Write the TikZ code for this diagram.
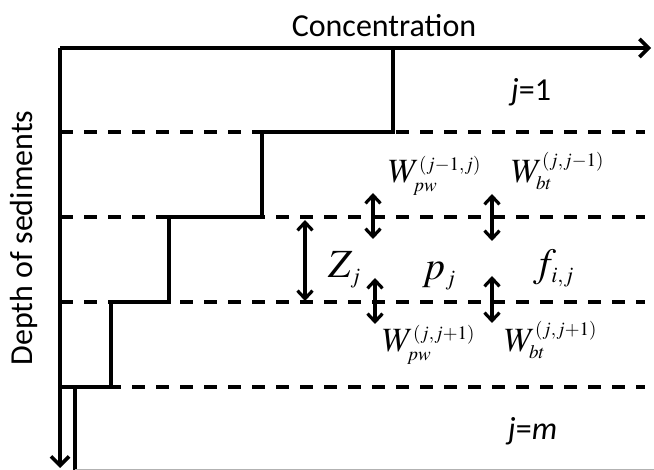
\documentclass[tikz,border=0pt]{standalone}
\usepackage{mathptmx}
\usepackage{fontspec}
\newfontfamily\calib{Carlito}
\usetikzlibrary{arrows.meta}
\DeclareMathSizes{34}{34}{19}{15}
\DeclareMathSizes{40}{40}{22}{16}
\begin{document}
\begin{tikzpicture}[x=1pt,y=-1pt,
  axisline/.style={line width=3.6pt,-{Straight Barb[length=9pt,width=18pt]}},
  layerline/.style={line width=3.6pt,dash pattern=on 13pt off 11pt},
  profile/.style={line width=4pt,line join=miter},
  dblarrow/.style={line width=3.2pt,{Straight Barb[length=8pt,width=15pt]}-{Straight Barb[length=8pt,width=15pt]}},
  sanslabel/.style={inner sep=0pt,font=\calib\fontsize{32}{38}\selectfont},
  wlabel/.style={inner sep=0pt,anchor=base west,font=\fontsize{34}{40}\selectfont},
  biglabel/.style={inner sep=0pt,anchor=base west,font=\fontsize{40}{46}\selectfont}]
\useasboundingbox (0,0) rectangle (654,470);
\coordinate (O) at (60,48);
\coordinate (xend) at (651,48);
\coordinate (yend) at (60,468);
% layer boundaries
\foreach \yy/\nm in {132/a,217/b,302/c,387/d}{
  \coordinate (L\nm) at (60,\yy);
  \coordinate (R\nm) at (645,\yy);
  \draw[layerline] (L\nm) -- (R\nm);
}
% concentration profile
\coordinate (s0) at (60,48);
\coordinate (s1) at (393,48);
\coordinate (s2) at (393,132);
\coordinate (s3) at (262,132);
\coordinate (s4) at (262,217);
\coordinate (s5) at (169,217);
\coordinate (s6) at (169,302);
\coordinate (s7) at (111,302);
\coordinate (s8) at (111,387);
\coordinate (s9) at (75,387);
\coordinate (s10) at (75,470);
\draw[profile] (s0) -- (s1) -- (s2) -- (s3) -- (s4) -- (s5) -- (s6) -- (s7) -- (s8) -- (s9) -- (s10);
% axes
\draw[axisline] (O) -- (xend);
\draw[axisline] (O) -- (yend);
\coordinate (g1) at (75,469.5);
\coordinate (g2) at (654,469.5);
\draw[gray!60,line width=1pt] (g1) -- (g2);
% axis labels
\node[sanslabel,anchor=base] (conc) at (384,37) {Concentration};
\node[sanslabel,rotate=90] (depth) at (24,238) {Depth of sediments};
\node[sanslabel,anchor=base west] (j1) at (511,101) {\itshape j\upshape=1};
\node[sanslabel,anchor=base west] (jm) at (508,440) {\itshape j\upshape=\itshape m};
% double arrows
\coordinate (a1t) at (373,193); \coordinate (a1b) at (373,239);
\coordinate (a2t) at (492,194); \coordinate (a2b) at (492,241);
\coordinate (a3t) at (375,278); \coordinate (a3b) at (375,324);
\coordinate (a4t) at (492,276); \coordinate (a4b) at (492,323);
\coordinate (zt) at (305,220); \coordinate (zb) at (305,301);
\draw[dblarrow] (a1t) -- (a1b);
\draw[dblarrow] (a2t) -- (a2b);
\draw[dblarrow] (a3t) -- (a3b);
\draw[dblarrow] (a4t) -- (a4b);
\draw[dblarrow] (zt) -- (zb);
% math labels
\node[wlabel] (wpw1) at (388,183) {$W_{pw}^{(j-1,j)}$};
\node[wlabel] (wbt1) at (511,183) {$W_{bt}^{(j,j-1)}$};
\node[wlabel] (wpw2) at (382,352) {$W_{pw}^{(j,j+1)}$};
\node[wlabel] (wbt2) at (504,352) {$W_{bt}^{(j,j+1)}$};
\node[biglabel] (zj) at (328,278) {$Z_j$};
\node[biglabel] (pj) at (422,280) {$p_j$};
\node[biglabel] (fij) at (533,277) {$f_{i,j}$};
\end{tikzpicture}
\end{document}
